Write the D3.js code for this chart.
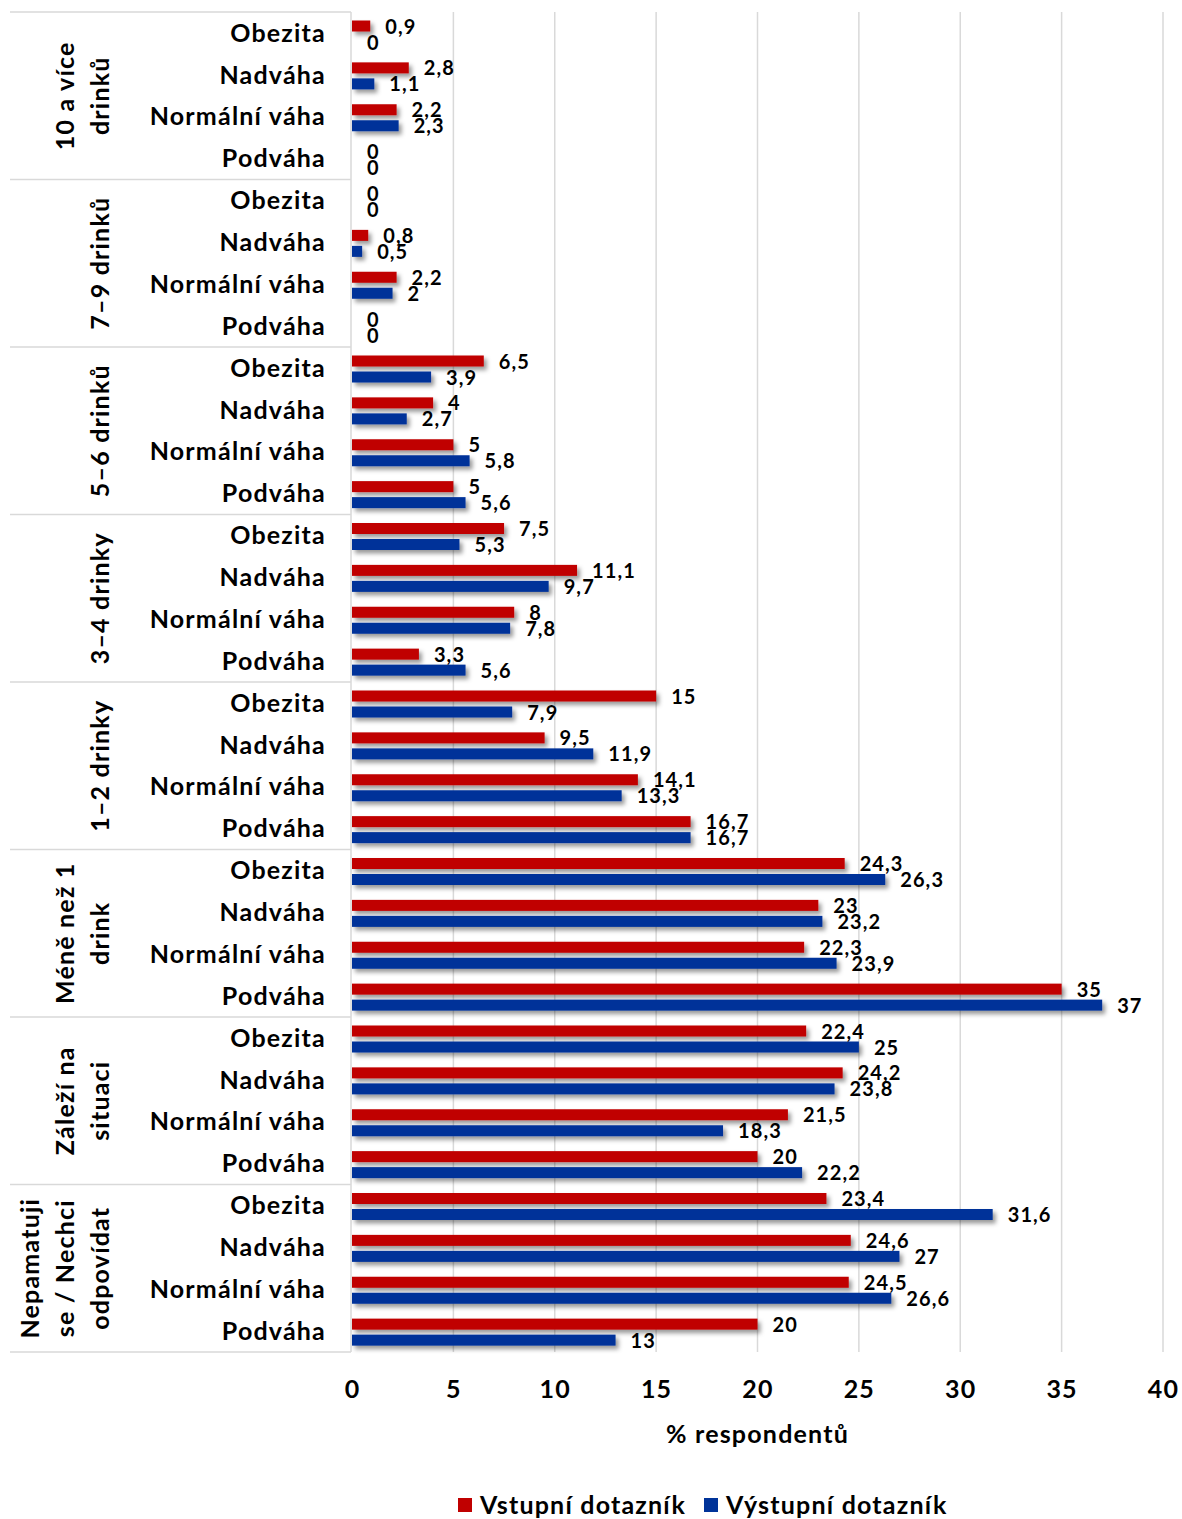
<!DOCTYPE html>
<html>
<head>
<meta charset="utf-8">
<script src="https://cdn.jsdelivr.net/npm/d3@7"></script>
<style>
  body { margin: 0; background: #fff; }
  text { font-family: Lato, "Open Sans", sans-serif; font-weight: bold; fill: #000; letter-spacing: 1.2px; }
</style>
</head>
<body>
<div id="chart"></div>
<script>
// Data (top to bottom, as drawn)
var groups = ["10 a více drinků", "7–9 drinků", "5–6 drinků", "3–4 drinky", "1–2 drinky", "Méně než 1 drink", "Záleží na situaci", "Nepamatuji se / Nechci odpovídat"];
var groupLines = [["10 a více", "drinků"], ["7–9 drinků"], ["5–6 drinků"], ["3–4 drinky"], ["1–2 drinky"], ["Méně než 1", "drink"], ["Záleží na", "situaci"], ["Nepamatuji", "se / Nechci", "odpovídat"]];
var weights = ["Obezita", "Nadváha", "Normální váha", "Podváha"];
var vstupni = [0.9, 2.8, 2.2, 0, 0, 0.8, 2.2, 0, 6.5, 4, 5, 5, 7.5, 11.1, 8, 3.3, 15, 9.5, 14.1, 16.7, 24.3, 23, 22.3, 35, 22.4, 24.2, 21.5, 20, 23.4, 24.6, 24.5, 20];
var vystupni = [0, 1.1, 2.3, 0, 0, 0.5, 2, 0, 3.9, 2.7, 5.8, 5.6, 5.3, 9.7, 7.8, 5.6, 7.9, 11.9, 13.3, 16.7, 26.3, 23.2, 23.9, 37, 25, 23.8, 18.3, 22.2, 31.6, 27, 26.6, 13];
var xTicks = [0, 5, 10, 15, 20, 25, 30, 35, 40];
var seriesNames = ["Vstupní dotazník", "Výstupní dotazník"];
var seriesColors = ["#C00000", "#003399"];

var W = 1182, H = 1519;
var plotLeft = 352, plotRight = 1163, plotTop = 12, plotBottom = 1352;

var rows = [];
groups.forEach(function (g, gi) {
  weights.forEach(function (w, wi) {
    rows.push({ key: gi + "|" + w, group: gi, weight: w, v1: vstupni[gi * 4 + wi], v2: vystupni[gi * 4 + wi] });
  });
});

var x = d3.scaleLinear().domain([0, 40]).range([plotLeft, plotRight]);
var y = d3.scaleBand().domain(rows.map(function (d) { return d.key; })).range([plotTop, plotBottom]);
var gy = d3.scaleBand().domain(d3.range(groups.length)).range([plotTop, plotBottom]);
var rowH = y.bandwidth();
var barH = 11;

var svg = d3.select("#chart").append("svg").attr("width", W).attr("height", H);

var defs = svg.append("defs");
var f = defs.append("filter").attr("id", "shadow").attr("x", "-10%").attr("y", "-10%").attr("width", "130%").attr("height", "130%");
f.append("feDropShadow").attr("dx", 3).attr("dy", 3.5).attr("stdDeviation", 2.2)
  .attr("flood-color", "#000").attr("flood-opacity", 0.4);

// Gridlines
svg.append("g").selectAll("line").data(xTicks.slice(1)).enter().append("line")
  .attr("x1", function (d) { return x(d); }).attr("x2", function (d) { return x(d); })
  .attr("y1", plotTop).attr("y2", plotBottom)
  .attr("stroke", "#d9d9d9").attr("stroke-width", 1.5);

// Left axis line and group separators
svg.append("line").attr("x1", plotLeft - 1).attr("x2", plotLeft - 1).attr("y1", plotTop).attr("y2", plotBottom)
  .attr("stroke", "#d9d9d9").attr("stroke-width", 1.5);
svg.append("g").selectAll("line").data(d3.range(groups.length + 1)).enter().append("line")
  .attr("x1", 10).attr("x2", plotLeft - 1)
  .attr("y1", function (d) { return plotTop + d * gy.bandwidth(); })
  .attr("y2", function (d) { return plotTop + d * gy.bandwidth(); })
  .attr("stroke", "#d9d9d9").attr("stroke-width", 1.5);

// Bars
var bars = svg.append("g").attr("filter", "url(#shadow)");
bars.selectAll("rect.v1").data(rows).enter().append("rect")
  .attr("x", x(0)).attr("y", function (d) { return y(d.key) + 8.5; })
  .attr("width", function (d) { return x(d.v1) - x(0); }).attr("height", barH)
  .attr("fill", seriesColors[0]);
bars.selectAll("rect.v2").data(rows).enter().append("rect")
  .attr("x", x(0)).attr("y", function (d) { return y(d.key) + 24.5; })
  .attr("width", function (d) { return x(d.v2) - x(0); }).attr("height", barH)
  .attr("fill", seriesColors[1]);

// Data labels
var fmt = function (v) { return String(v).replace(".", ","); };
svg.append("g").selectAll("text").data(rows).enter().append("text")
  .attr("x", function (d) { return x(d.v1) + 15; })
  .attr("y", function (d) { return y(d.key) + 14.5; })
  .attr("dy", "0.35em").style("font-size", "20px").style("letter-spacing", "1.1px")
  .text(function (d) { return fmt(d.v1); });
svg.append("g").selectAll("text").data(rows).enter().append("text")
  .attr("x", function (d) { return x(d.v2) + 15; })
  .attr("y", function (d) { return y(d.key) + 30.5; })
  .attr("dy", "0.35em").style("font-size", "20px").style("letter-spacing", "1.1px")
  .text(function (d) { return fmt(d.v2); });

// Category labels
svg.append("g").selectAll("text").data(rows).enter().append("text")
  .attr("x", 326).attr("y", function (d) { return y(d.key) + rowH / 2; })
  .attr("dy", "0.35em").attr("text-anchor", "end").style("font-size", "25px")
  .text(function (d) { return d.weight; });

// Group labels (rotated)
groupLines.forEach(function (lines, gi) {
  var cy = gy(gi) + gy.bandwidth() / 2;
  var n = lines.length;
  lines.forEach(function (ln, li) {
    var cx = 100 - (n - 1 - li) * 35;
    svg.append("text")
      .attr("transform", "translate(" + cx + "," + cy + ") rotate(-90)")
      .attr("text-anchor", "middle").attr("dy", "0.35em")
      .style("font-size", "25px")
      .text(ln);
  });
});

// X axis
var xAxis = svg.append("g").attr("transform", "translate(0," + plotBottom + ")")
  .call(d3.axisBottom(x).tickValues(xTicks).tickSize(0).tickPadding(28));
xAxis.select(".domain").remove();
xAxis.selectAll("text").style("font-size", "25px").style("font-family", "Lato, sans-serif").style("font-weight", "bold");

svg.append("text").attr("x", (plotLeft + plotRight) / 2).attr("y", 1434).attr("dy", "0.35em")
  .attr("text-anchor", "middle").style("font-size", "25px").text("% respondentů");

// Legend
var legX = [458, 704];
seriesNames.forEach(function (s, i) {
  svg.append("rect").attr("x", legX[i]).attr("y", 1498).attr("width", 14).attr("height", 14).attr("fill", seriesColors[i]);
  svg.append("text").attr("x", legX[i] + 22).attr("y", 1505).attr("dy", "0.35em")
    .style("font-size", "25px").text(s);
});
</script>
</body>
</html>
